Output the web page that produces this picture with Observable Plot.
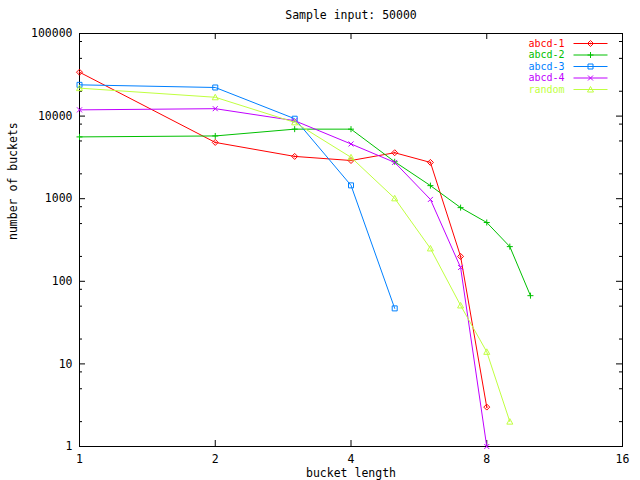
<!DOCTYPE html>
<html><head><meta charset="utf-8">
<script src="https://cdn.jsdelivr.net/npm/d3@7"></script>
<script src="https://cdn.jsdelivr.net/npm/@observablehq/plot@0.6"></script>
<style>body{margin:0;background:#fff}</style>
</head><body><div id="chart"></div>
<script>
const title = "Sample input: 50000";
const xLabel = "bucket length";
const yLabel = "number of buckets";
const seriesNames = ["abcd-1", "abcd-2", "abcd-3", "abcd-4", "random"];
const seriesColors = ["#ff0000", "#00c000", "#0080ff", "#c000ff", "#c0ff40"];
const bucketLength = [1, 2, 3, 4, 5, 6, 7, 8, 9, 10];
const abcd1 = [34000, 4800, 3250, 2900, 3600, 2750, 200, 3];
const abcd2 = [5600, 5750, 6950, 6950, 2800, 1440, 780, 515, 263, 67];
const abcd3 = [23900, 22200, 9300, 1450, 47];
const abcd4 = [11900, 12300, 8800, 4600, 2750, 980, 147, 1];
const random = [21800, 16900, 8400, 3170, 1010, 250, 51, 14, 2];
const xTicks = [1, 2, 4, 8, 16];
const xInnerTicks = [2, 4, 8];
const yTicks = [1, 10, 100, 1000, 10000, 100000];
const yMinorTicks = [2, 5, 8, 20, 50, 80, 200, 500, 800, 2000, 5000, 8000, 20000, 50000, 80000];

const seriesValues = [abcd1, abcd2, abcd3, abcd4, random];
const rows = seriesValues.flatMap((vals, i) =>
  vals.map((v, j) => ({series: seriesNames[i], x: bucketLength[j], y: v})));

const W = 640, H = 480, mL = 79, mR = 18, mT = 33, mB = 34;
const innerW = W - mL - mR, innerH = H - mT - mB;

const shapes = [
  c => { c.moveTo(0, -3); c.lineTo(3, 0); c.lineTo(0, 3); c.lineTo(-3, 0); c.closePath(); c.moveTo(0.5, 0); c.arc(0, 0, 0.5, 0, 2 * Math.PI); },
  c => { c.moveTo(-3, 0); c.lineTo(3, 0); c.moveTo(0, -3); c.lineTo(0, 3); },
  c => { c.rect(-2.5, -2.5, 5, 5); },
  c => { c.moveTo(-2.5, -2.5); c.lineTo(2.5, 2.5); c.moveTo(2.5, -2.5); c.lineTo(-2.5, 2.5); },
  c => { c.moveTo(0, -3); c.lineTo(3, 2.5); c.lineTo(-3, 2.5); c.closePath(); }
];
const markSym = shapes.map(f => ({draw(c) { f(c); }}));
const legendSym = shapes.map(f => ({draw(c) { c.moveTo(-17, 0); c.lineTo(17, 0); f(c); }}));

const marks = [
  Plot.frame({stroke: "black"}),
  Plot.tickX(xInnerTicks, {x: d => d, insetTop: innerH - 6, stroke: "black"}),
  Plot.tickX(xInnerTicks, {x: d => d, insetBottom: innerH - 6, stroke: "black"}),
  Plot.tickY(yTicks, {y: d => d, insetRight: innerW - 6, stroke: "black"}),
  Plot.tickY(yTicks, {y: d => d, insetLeft: innerW - 6, stroke: "black"}),
  Plot.tickY(yMinorTicks, {y: d => d, insetRight: innerW - 3, stroke: "black"}),
  Plot.tickY(yMinorTicks, {y: d => d, insetLeft: innerW - 3, stroke: "black"}),
  Plot.axisX({ticks: xTicks, tickSize: 0, tickPadding: 8, tickFormat: d => String(d), label: null}),
  Plot.axisY({ticks: yTicks, tickSize: 0, tickPadding: 7, tickFormat: d => String(d), label: null}),
  Plot.text([title], {frameAnchor: "top", dy: -18, lineAnchor: "middle", text: d => d, fill: "black"}),
  Plot.text([xLabel], {frameAnchor: "bottom", dy: 27, lineAnchor: "middle", text: d => d, fill: "black"}),
  Plot.text([yLabel], {frameAnchor: "left", dx: -66, rotate: -90, text: d => d, fill: "black"})
];
seriesNames.forEach((name, i) => {
  const data = rows.filter(r => r.series === name);
  const rowDy = 10 + 11.5 * i;
  marks.push(Plot.line(data, {x: "x", y: "y", stroke: seriesColors[i], strokeWidth: 1}));
  marks.push(Plot.dot(data, {x: "x", y: "y", symbol: markSym[i], stroke: seriesColors[i], fill: "none", strokeWidth: 1}));
  marks.push(Plot.text([name], {frameAnchor: "top-right", dx: -58, dy: rowDy, fontSize: 10, textAnchor: "end", lineAnchor: "middle", fill: seriesColors[i], text: d => d}));
  marks.push(Plot.dot([name], {frameAnchor: "top-right", dx: -32, dy: rowDy, symbol: legendSym[i], stroke: seriesColors[i], fill: "none", strokeWidth: 1}));
});

const chart = Plot.plot({
  width: W, height: H,
  marginLeft: mL, marginRight: mR, marginTop: mT, marginBottom: mB,
  style: {fontFamily: "DejaVu Sans Mono", fontSize: "11.5px", background: "#fff", color: "black"},
  x: {type: "log", base: 2, domain: [1, 16]},
  y: {type: "log", domain: [1, 100000]},
  marks
});
document.getElementById("chart").appendChild(chart);
</script>
</body></html>
